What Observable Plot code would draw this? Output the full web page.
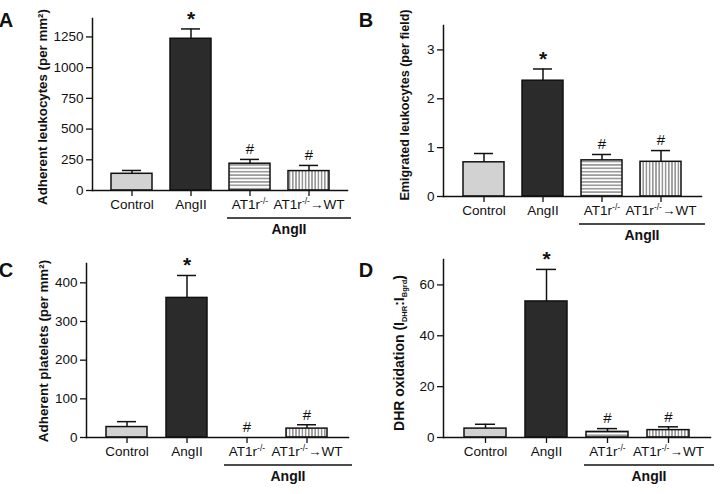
<!DOCTYPE html>
<html><head><meta charset="utf-8">
<script src="https://cdn.jsdelivr.net/npm/d3@7"></script>
<script src="https://cdn.jsdelivr.net/npm/@observablehq/plot@0.6"></script>
<style>
body{margin:0;background:#fff;}
#fig{position:relative;width:721px;height:494px;font-family:"Liberation Sans",Arial,sans-serif;}
#fig svg{position:absolute;}
</style></head><body><div id="fig"></div>
<script>
// ---- data ----
const categories = ["Control", "AngII", "AT1r-/-", "AT1r-/-→WT"];
const groupLabel = "AngII";
const markers = ["", "*", "#", "#"];

// A: adherent leukocytes (per mm²)
const leukoMean = [136, 1235, 218, 158];
const leukoSEM  = [27, 80, 35, 46];
const leukoTicks = [0, 250, 500, 750, 1000, 1250];

// B: emigrated leukocytes (per field)
const emigMean = [0.70, 2.37, 0.74, 0.71];
const emigSEM  = [0.18, 0.24, 0.12, 0.23];
const emigTicks = [0, 1, 2, 3];

// C: adherent platelets (per mm²)
const plateMean = [27, 361, 0, 23];
const plateSEM  = [14, 58, 0, 10];
const plateTicks = [0, 100, 200, 300, 400];

// D: DHR oxidation
const dhrMean = [3.5, 53.5, 2.2, 2.9];
const dhrSEM  = [1.7, 12.6, 1.3, 1.3];
const dhrTicks = [0, 20, 40, 60];

// ---- layout ----
const panels = [
  {id:"A", mean:leukoMean, sem:leukoSEM, ticks:leukoTicks, max:1400,
   left:0, top:0, width:360, height:250, mt:18, mr:13, mb:60, ml:92,
   label:[{t:"Adherent leukocytes (per mm²)"}], labelX:46.5, labelY:107, labelSize:13.3},
  {id:"B", mean:emigMean, sem:emigSEM, ticks:emigTicks, max:3.5,
   left:360, top:0, width:361, height:250, mt:25, mr:20, mb:54, ml:83,
   label:[{t:"Emigrated leukocytes (per field)"}], labelX:49, labelY:105, labelSize:12.6},
  {id:"C", mean:plateMean, sem:plateSEM, ticks:plateTicks, max:450,
   left:0, top:250, width:360, height:244, mt:13, mr:12, mb:57, ml:86,
   label:[{t:"Adherent platelets (per mm²)"}], labelX:47.5, labelY:101, labelSize:13.4},
  {id:"D", mean:dhrMean, sem:dhrSEM, ticks:dhrTicks, max:70,
   left:360, top:250, width:361, height:244, mt:9, mr:11, mb:57, ml:83,
   label:[{t:"DHR oxidation (I"},{t:"DHR",sub:true},{t:":I"},{t:"Bgrd",sub:true},{t:")"}], labelX:44, labelY:103, labelSize:14}
];

const fig = document.getElementById("fig");
const ink = "#111";

for (const p of panels) {
  const rows = categories.map((c, i) => ({cat:c, mean:p.mean[i], sem:p.sem[i], top:p.mean[i] + p.sem[i], mark:markers[i]}));
  const fills = ["#d2d2d2", "#2b2b2b", `url(#h${p.id})`, `url(#v${p.id})`];
  const plot = Plot.plot({
    width: p.width, height: p.height,
    marginTop: p.mt, marginRight: p.mr, marginBottom: p.mb, marginLeft: p.ml,
    x: {domain: categories, padding: 0.31, label: null},
    y: {domain: [0, p.max], label: null},
    style: {fontFamily: '"Liberation Sans", Arial, sans-serif', fontSize: "13.5px", color: ink, background: "transparent", overflow: "visible"},
    marks: [
      ...categories.map((c, i) => Plot.barY(rows, {filter: d => d.cat === c, x: "cat", y: "mean", fill: fills[i], stroke: ink, strokeWidth: 1.5})),
      Plot.ruleX(rows, {filter: d => d.sem > 0, x: "cat", y1: "mean", y2: "top", stroke: ink, strokeWidth: 1.5}),
      Plot.tickY(rows, {filter: d => d.sem > 0, x: "cat", y: "top", stroke: ink, strokeWidth: 1.5, insetLeft: 11, insetRight: 11}),
      Plot.text(rows, {filter: d => d.mark === "*", x: "cat", y: "top", text: "mark", fontSize: 21, fontWeight: "bold", dy: -10, fill: ink}),
      Plot.text(rows, {filter: d => d.mark === "#", x: "cat", y: "top", text: "mark", fontSize: 15, dy: -10, fill: ink}),
      Plot.axisY({ticks: p.ticks, tickFormat: d => String(d), tickSize: 6, tickPadding: 3, label: null, strokeWidth: 1.3, fontSize: 13.5}),
      Plot.axisX({tickSize: 6, tickPadding: 3, label: null, strokeWidth: 1.3, fontSize: 13.5}),
      Plot.frame({anchor: "left", stroke: ink, strokeWidth: 1.5}),
      Plot.frame({anchor: "bottom", stroke: ink, strokeWidth: 1.5})
    ]
  });
  plot.style.left = p.left + "px";
  plot.style.top = p.top + "px";
  fig.appendChild(plot);

  const svg = d3.select(plot);
  const defs = svg.insert("defs", ":first-child");
  const h = defs.append("pattern").attr("id", "h" + p.id).attr("patternUnits", "userSpaceOnUse").attr("width", 6).attr("height", 3.4);
  h.append("rect").attr("width", 6).attr("height", 3.4).attr("fill", "#fff");
  h.append("line").attr("x1", 0).attr("x2", 6).attr("y1", 1.7).attr("y2", 1.7).attr("stroke", "#444").attr("stroke-width", 0.9);
  const v = defs.append("pattern").attr("id", "v" + p.id).attr("patternUnits", "userSpaceOnUse").attr("width", 3.2).attr("height", 6);
  v.append("rect").attr("width", 3.2).attr("height", 6).attr("fill", "#fff");
  v.append("line").attr("x1", 1.6).attr("x2", 1.6).attr("y1", 0).attr("y2", 6).attr("stroke", "#444").attr("stroke-width", 0.9);

  // superscripts in tick labels
  svg.selectAll('g[aria-label="x-axis tick label"] text').each(function () {
    const t = d3.select(this); const s = t.text();
    if (s.includes("-/-")) {
      const [a, b] = s.split("-/-");
      t.text(null);
      t.append("tspan").text(a);
      t.append("tspan").attr("font-size", 8.5).attr("dy", -5).text("-/-");
      if (b) t.append("tspan").attr("dy", 5).text(b);
    }
  });

  // group bracket line + label
  const xs = plot.scale("x");
  const x3 = xs.apply(categories[2]);
  const xEnd = xs.range[1];
  const yb = p.height - p.mb;
  svg.append("line").attr("x1", x3 - 2).attr("x2", xEnd + 4).attr("y1", yb + 28).attr("y2", yb + 28)
    .attr("stroke", ink).attr("stroke-width", 1.3);
  svg.append("text").attr("x", (x3 - 2 + xEnd + 4) / 2).attr("y", yb + 44).attr("text-anchor", "middle")
    .attr("font-weight", "bold").attr("font-size", 14).attr("fill", ink).text(groupLabel);

  // y-axis title
  const yt = svg.append("text").attr("transform", `translate(${p.labelX},${p.labelY}) rotate(-90)`)
    .attr("text-anchor", "middle").attr("font-weight", "bold").attr("font-size", p.labelSize).attr("fill", ink);
  let shift = 0;
  for (const part of p.label) {
    const ts = yt.append("tspan").text(part.t);
    if (part.sub) { ts.attr("font-size", 7.5).attr("dy", 3 - shift); shift = 3; }
    else { if (shift) ts.attr("dy", -shift); shift = 0; }
  }

  // panel letter
  svg.append("text").attr("x", 6).attr("y", 26.5).attr("font-weight", "bold").attr("font-size", 20)
    .attr("fill", ink).text(p.id);
}
</script>
</body></html>
